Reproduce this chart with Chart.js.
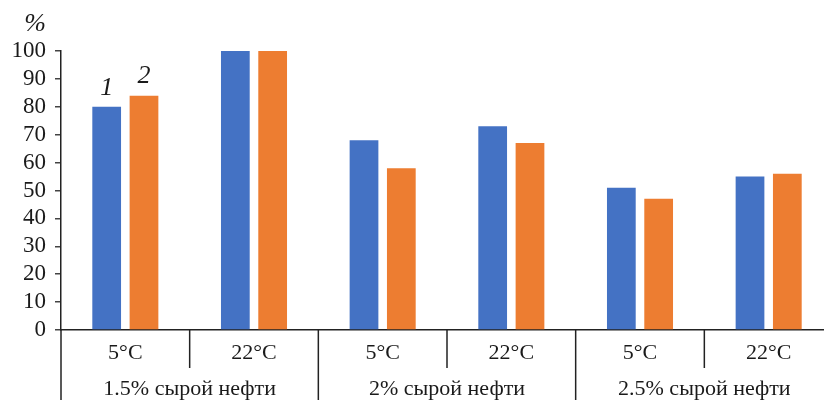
<!DOCTYPE html>
<html>
<head>
<meta charset="utf-8">
<script src="https://cdn.jsdelivr.net/npm/chart.js@4"></script>
<style>
  body { margin: 0; background: #fff; overflow: hidden; }
  #wrap { width: 834px; height: 400px; position: relative; }
</style>
</head>
<body>
<div id="wrap"><canvas id="oilChart"></canvas></div>
<script>
// data
var temps = ['5°C', '22°C', '5°C', '22°C', '5°C', '22°C']
var groups = ['1.5% сырой нефти', '2% сырой нефти', '2.5% сырой нефти']
var series1 = [80, 100, 68, 73, 51, 55]
var series2 = [84, 100, 58, 67, 47, 56]
var seriesNames = ['1', '2']
var yTicks = [0, 10, 20, 30, 40, 50, 60, 70, 80, 90, 100]

var serif = '"Liberation Serif", "DejaVu Serif", serif'

// draws the two-level category table under the plot + the "1","2" and "%" marks
var tablePlugin = {
  id: 'tablePlugin',
  afterDraw: function(chart) {
    var ctx = chart.ctx
    var x = chart.scales.x
    var area = chart.chartArea
    var half = (x.getPixelForValue(1) - x.getPixelForValue(0)) / 2
    ctx.save()
    ctx.strokeStyle = '#222'
    ctx.lineWidth = 1.5
    // left border going down through the table
    ctx.beginPath()
    ctx.moveTo(area.left, area.bottom)
    ctx.lineTo(area.left, 400)
    ctx.stroke()
    for (var i = 1; i < temps.length; i++) {
      var bx = x.getPixelForValue(i) - half
      ctx.beginPath()
      ctx.moveTo(bx, area.bottom)
      ctx.lineTo(bx, (i % 2 == 0) ? 400 : area.bottom + 38)
      ctx.stroke()
    }
    ctx.fillStyle = '#1a1a1a'
    ctx.textAlign = 'center'
    ctx.textBaseline = 'middle'
    ctx.font = '22px ' + serif
    temps.forEach(function(t, i) {
      ctx.fillText(t, x.getPixelForValue(i), area.bottom + 23)
    })
    groups.forEach(function(g, i) {
      var gx = (x.getPixelForValue(i * 2) + x.getPixelForValue(i * 2 + 1)) / 2
      ctx.fillText(g, gx, area.bottom + 59)
    })
    // series numbers above first pair of bars
    ctx.font = 'italic 26px ' + serif
    chart.data.datasets.forEach(function(ds, k) {
      var bar = chart.getDatasetMeta(k).data[0]
      ctx.fillText(seriesNames[k], bar.x, bar.y - 19)
    })
    ctx.font = 'italic 26px ' + serif
    ctx.fillText('%', 35, 24)
    ctx.restore()
  }
}

new Chart(document.getElementById('oilChart'), {
  type: 'bar',
  data: {
    labels: temps,
    datasets: [{
      label: seriesNames[0],
      data: series1,
      backgroundColor: '#4472C4',
      categoryPercentage: 0.58,
      barPercentage: 0.77
    }, {
      label: seriesNames[1],
      data: series2,
      backgroundColor: '#ED7D31',
      categoryPercentage: 0.58,
      barPercentage: 0.77
    }]
  },
  options: {
    responsive: true,
    maintainAspectRatio: false,
    animation: false,
    layout: { padding: { top: 51, right: 1, left: 0, bottom: 0 } },
    plugins: { legend: { display: false }, tooltip: { enabled: false } },
    scales: {
      x: {
        grid: { display: false },
        border: { display: true, color: '#222', width: 1.5 },
        ticks: { display: false },
        afterFit: function(scale) { scale.height = 70 }
      },
      y: {
        min: 0,
        max: 100,
        afterBuildTicks: function(scale) {
          scale.ticks = yTicks.map(function(v) { return { value: v } })
        },
        grid: { drawOnChartArea: false, drawTicks: true, tickLength: 6, color: '#444', lineWidth: 1.5 },
        border: { display: true, color: '#222', width: 1.5 },
        ticks: { color: '#1a1a1a', font: { family: serif, size: 23 }, padding: 9, autoSkip: false },
        afterFit: function(scale) { scale.width = 61 }
      }
    }
  },
  plugins: [tablePlugin]
})
</script>
</body>
</html>
